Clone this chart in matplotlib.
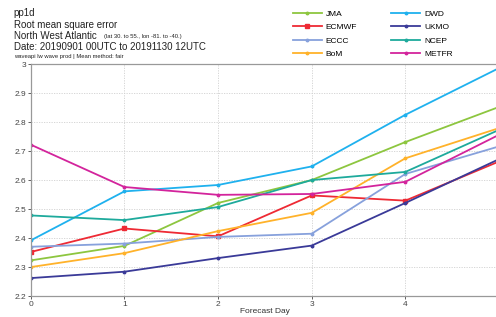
import matplotlib
matplotlib.use("Agg")
import matplotlib.pyplot as plt
from matplotlib.ticker import FuncFormatter

plt.rcParams['font.family'] = ['Liberation Sans', 'DejaVu Sans']

# Forecast days and RMSE per centre
days = [0, 1, 2, 3, 4, 5]
jma = [2.323, 2.373, 2.521, 2.600, 2.731, 2.852]
ecmwf = [2.352, 2.433, 2.406, 2.547, 2.529, 2.664]
eccc = [2.370, 2.381, 2.404, 2.415, 2.621, 2.716]
bom = [2.300, 2.348, 2.424, 2.487, 2.675, 2.779]
dwd = [2.392, 2.561, 2.583, 2.647, 2.825, 2.986]
ukmo = [2.262, 2.284, 2.331, 2.374, 2.521, 2.672]
ncep = [2.478, 2.462, 2.507, 2.600, 2.628, 2.773]
metfr = [2.722, 2.576, 2.549, 2.552, 2.594, 2.756]

series = [
    ("JMA", jma, "#8dc63f", "o"),
    ("ECMWF", ecmwf, "#ee2a34", "s"),
    ("ECCC", eccc, "#87a1dc", "o"),
    ("BoM", bom, "#ffb22a", "o"),
    ("DWD", dwd, "#1fb1ee", "o"),
    ("UKMO", ukmo, "#3a3a98", "o"),
    ("NCEP", ncep, "#1eaa9c", "o"),
    ("METFR", metfr, "#d3249c", "o"),
]

fig = plt.figure(figsize=(4.96, 3.17), dpi=100)
ax = fig.add_axes([0.062, 0.066, 0.944, 0.732])

for name, vals, col, mk in series:
    ax.plot(days, vals, color=col, lw=1.3, marker=mk,
            ms=2.8 if mk == "s" else 1.8, label=name)

ax.set_xlim(0, 5)
ax.set_ylim(2.2, 3.0)
ax.set_xticks([0, 1, 2, 3, 4])
ax.set_yticks([2.2, 2.3, 2.4, 2.5, 2.6, 2.7, 2.8, 2.9, 3.0])
ax.yaxis.set_major_formatter(FuncFormatter(lambda v, p: "%g" % round(v, 1)))
ax.grid(True, color="#d0d0d0", linestyle=(0, (1.5, 1.5)), lw=0.6)
ax.tick_params(labelsize=6, colors="#444444", length=2, width=0.6, pad=1.5)
for s in ["top", "left", "bottom"]:
    ax.spines[s].set_color("#999999")
    ax.spines[s].set_linewidth(0.9)
ax.spines["right"].set_visible(False)
ax.set_xlabel("Forecast Day", fontsize=6, color="#333333", labelpad=0)

# Header text
fig.text(0.028, 0.958, "pp1d", fontsize=7, color="#222222", va="center")
fig.text(0.028, 0.922, "Root mean square error", fontsize=7, color="#222222", va="center")
fig.text(0.028, 0.888, "North West Atlantic", fontsize=7, color="#222222", va="center")
fig.text(0.21, 0.886, "(lat 30. to 55., lon -81. to -40.)", fontsize=4.2, color="#222222", va="center")
fig.text(0.028, 0.853, "Date: 20190901 00UTC to 20191130 12UTC", fontsize=7, color="#222222", va="center")
fig.text(0.028, 0.822, "waveapi lw wave prod | Mean method: fair", fontsize=4.2, color="#222222", va="center")

fig.legend(loc="upper left", bbox_to_anchor=(0.575, 0.993), ncol=2, frameon=False,
           fontsize=6, handlelength=3.5, columnspacing=4.1, labelspacing=0.68,
           handletextpad=0.45)

fig.savefig("out.png", dpi=100)
